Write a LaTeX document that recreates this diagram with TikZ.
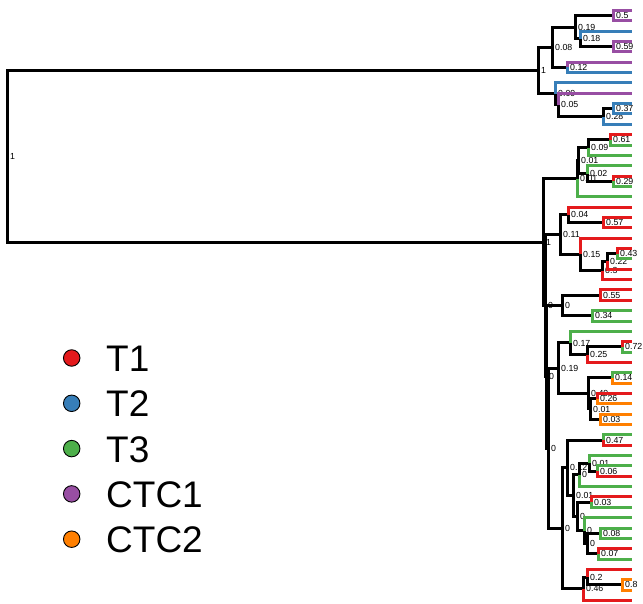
\documentclass[tikz,border=0pt]{standalone}
\usepackage{fontspec}
\setmainfont{Liberation Sans}
\usetikzlibrary{calc}
\definecolor{cR}{HTML}{E41A1C}
\definecolor{cB}{HTML}{377EB8}
\definecolor{cG}{HTML}{4DAF4A}
\definecolor{cP}{HTML}{984EA3}
\definecolor{cO}{HTML}{FF7F00}
\newcommand\inode[4]{\path let \p1=($(#3)!.5!(#4)$) in coordinate (#1) at (#2pt,\y1);}
\newcommand\ed[3][black]{\draw[tree,#1] (#2) |- (#3);}
\newcommand\lb[2]{\node[lab] (l#1) at ($(#1)+(3,0)$) {#2};}
\begin{document}
\begin{tikzpicture}[x=1pt,y=-1pt,
  tree/.style={line width=3pt},
  lab/.style={anchor=west,inner sep=0pt,font=\fontsize{8.8}{9}\selectfont},
  dot/.style={circle,draw=black,line width=0.9pt,minimum size=16.5pt,inner sep=0pt},
  legtext/.style={anchor=base west,inner sep=0pt,font=\fontsize{37}{40}\selectfont}]
\useasboundingbox (0,0) rectangle (643,604);
% leaves
\foreach \i in {0,...,57} {\coordinate (L\i) at (632,10.5+10.35*\i);}
% top cluster
\inode{P1}{613}{L0}{L1}
\inode{P2}{613}{L3}{L4}
\inode{N018}{580}{L2}{P2}
\inode{N019}{575}{P1}{N018}
\inode{P3}{567}{L5}{L6}
\inode{N008}{552}{N019}{P3}
\inode{P5}{613}{L9}{L10}
\inode{N028}{603}{P5}{L11}
\inode{N005}{558}{L8}{N028}
\inode{N009}{555}{L7}{N005}
\inode{R0}{538}{N008}{N009}
% bottom cluster
\inode{P12}{610}{L12}{L13}
\inode{N009b}{588}{P12}{L14}
\inode{P16}{613}{L16}{L17}
\inode{N002}{587}{L15}{P16}
\inode{N001a}{578}{N009b}{N002}
\inode{X}{577}{N001a}{L18}
\inode{P20}{603}{L20}{L21}
\inode{N004}{568}{L19}{P20}
\inode{P23}{617}{L23}{L24}
\inode{N022}{607}{P23}{L25}
\inode{N03}{602}{N022}{L26}
\inode{N015}{580}{L22}{N03}
\inode{N011}{560}{N004}{N015}
\inode{P27}{600}{L27}{L28}
\inode{P29}{592}{L29}{L30}
\inode{N0a}{562}{P27}{P29}
\inode{P32}{622}{L32}{L33}
\inode{N025}{587}{P32}{L34}
\inode{N017}{570}{L31}{N025}
\inode{P35}{612}{L35}{L36}
\inode{P37}{597}{L37}{L38}
\inode{P39}{600}{L39}{L40}
\inode{N001b}{590}{P37}{P39}
\inode{M}{588}{P35}{N001b}
\inode{N019b}{558}{N017}{M}
\inode{P41}{603}{L41}{L42}
\inode{P44}{597}{L44}{L45}
\inode{C}{589}{L43}{P44}
\inode{D}{579}{C}{L46}
\inode{P47}{591}{L47}{L48}
\inode{P50}{600}{L50}{L51}
\inode{P52}{598}{L52}{L53}
\inode{K}{587}{P50}{P52}
\inode{I}{584}{L49}{K}
\inode{G}{577}{P47}{I}
\inode{F}{573}{D}{G}
\inode{T5}{567}{P41}{F}
\inode{P55}{622}{L55}{L56}
\inode{N02}{587}{L54}{P55}
\inode{N046}{583}{N02}{L57}
\inode{T4}{562}{T5}{N046}
\inode{T3}{548}{N019b}{T4}
\inode{T2}{546}{N0a}{T3}
\inode{T1}{545}{N011}{T2}
\inode{R1}{543}{X}{T1}
\inode{ROOT}{7}{R0}{R1}
% labels
\lb{ROOT}{1}\lb{R0}{1}\lb{R1}{1}
\lb{N008}{0.08}\lb{N019}{0.19}\lb{P1}{0.5}\lb{N018}{0.18}\lb{P2}{0.59}
\lb{P3}{0.12}\lb{N009}{0.09}\lb{N005}{0.05}\lb{N028}{0.28}\lb{P5}{0.37}
\lb{X}{0.01}\lb{N001a}{0.01}\lb{N009b}{0.09}\lb{P12}{0.61}\lb{N002}{0.02}\lb{P16}{0.29}
\lb{T1}{0}\lb{N011}{0.11}\lb{N004}{0.04}\lb{P20}{0.57}\lb{N015}{0.15}\lb{N03}{0.3}
\lb{N022}{0.22}\lb{P23}{0.43}\lb{T2}{0}\lb{N0a}{0}\lb{P27}{0.55}\lb{P29}{0.34}
\lb{T3}{0}\lb{N019b}{0.19}\lb{N017}{0.17}\lb{N025}{0.25}\lb{P32}{0.72}
\lb{M}{0.49}\lb{P35}{0.14}\lb{N001b}{0.01}\lb{P37}{0.26}\lb{P39}{0.03}
\lb{T4}{0}\lb{T5}{0.12}\lb{P41}{0.47}\lb{F}{0.01}\lb{D}{0}\lb{C}{0.01}\lb{P44}{0.06}
\lb{G}{0}\lb{P47}{0.03}\lb{I}{0}\lb{K}{0}\lb{P50}{0.08}\lb{P52}{0.07}
\lb{N046}{0.46}\lb{N02}{0.2}\lb{P55}{0.8}
% black edges
\ed{ROOT}{R0}\ed{ROOT}{R1}
\ed{R0}{N008}\ed{R0}{N009}
\ed{N008}{N019}\ed{N008}{P3}
\ed{N019}{P1}\ed{N019}{N018}
\ed{N018}{P2}
\ed{N009}{N005}\ed{N005}{N028}\ed{N028}{P5}
\ed{R1}{X}\ed{R1}{T1}
\ed{X}{N001a}\ed{N001a}{N009b}\ed{N001a}{N002}
\ed{N009b}{P12}\ed{N002}{P16}
\ed{T1}{N011}\ed{T1}{T2}
\ed{N011}{N004}\ed{N011}{N015}\ed{N004}{P20}
\ed{N015}{N03}\ed{N03}{N022}\ed{N022}{P23}
\ed{T2}{N0a}\ed{T2}{T3}\ed{N0a}{P27}\ed{N0a}{P29}
\ed{T3}{N019b}\ed{T3}{T4}
\ed{N019b}{N017}\ed{N019b}{M}\ed{N017}{N025}\ed{N025}{P32}
\ed{M}{P35}\ed{M}{N001b}\ed{N001b}{P37}\ed{N001b}{P39}
\ed{T4}{T5}\ed{T4}{N046}
\ed{T5}{P41}\ed{T5}{F}\ed{F}{D}\ed{F}{G}\ed{D}{C}\ed{C}{P44}
\ed{G}{P47}\ed{G}{I}\ed{I}{K}\ed{K}{P50}\ed{K}{P52}
\ed{N046}{N02}\ed{N02}{P55}
% coloured leaf edges
\ed[cP]{P1}{L0}\ed[cP]{P1}{L1}\ed[cB]{N018}{L2}\ed[cP]{P2}{L3}\ed[cP]{P2}{L4}
\ed[cP]{P3}{L5}\ed[cB]{P3}{L6}\ed[cB]{N009}{L7}\ed[cP]{N005}{L8}
\ed[cB]{P5}{L9}\ed[cB]{P5}{L10}\ed[cB]{N028}{L11}
\ed[cR]{P12}{L12}\ed[cG]{P12}{L13}\ed[cG]{N009b}{L14}\ed[cG]{N002}{L15}
\ed[cR]{P16}{L16}\ed[cG]{P16}{L17}\ed[cG]{X}{L18}
\ed[cR]{N004}{L19}\ed[cR]{P20}{L20}\ed[cR]{P20}{L21}\ed[cR]{N015}{L22}
\ed[cR]{P23}{L23}\ed[cG]{P23}{L24}\ed[cR]{N022}{L25}\ed[cR]{N03}{L26}
\ed[cR]{P27}{L27}\ed[cR]{P27}{L28}\ed[cG]{P29}{L29}\ed[cG]{P29}{L30}
\ed[cG]{N017}{L31}\ed[cR]{P32}{L32}\ed[cG]{P32}{L33}\ed[cR]{N025}{L34}
\ed[cG]{P35}{L35}\ed[cO]{P35}{L36}\ed[cR]{P37}{L37}\ed[cO]{P37}{L38}
\ed[cO]{P39}{L39}\ed[cO]{P39}{L40}
\ed[cG]{P41}{L41}\ed[cR]{P41}{L42}\ed[cG]{C}{L43}\ed[cG]{P44}{L44}\ed[cR]{P44}{L45}
\ed[cG]{D}{L46}\ed[cR]{P47}{L47}\ed[cG]{P47}{L48}\ed[cG]{I}{L49}
\ed[cG]{P50}{L50}\ed[cG]{P50}{L51}\ed[cR]{P52}{L52}\ed[cG]{P52}{L53}
\ed[cR]{N02}{L54}\ed[cO]{P55}{L55}\ed[cO]{P55}{L56}\ed[cR]{N046}{L57}
% legend
\node[dot,fill=cR] (k1) at (71.7,358) {};
\node[dot,fill=cB] (k2) at (71.7,403.3) {};
\node[dot,fill=cG] (k3) at (71.7,448.6) {};
\node[dot,fill=cP] (k4) at (71.7,493.9) {};
\node[dot,fill=cO] (k5) at (71.7,539.2) {};
\node[legtext] (t1) at (106,371.5) {T1};
\node[legtext] (t2) at (106,416.8) {T2};
\node[legtext] (t3) at (106,462.1) {T3};
\node[legtext] (t4) at (106,507.4) {CTC1};
\node[legtext] (t5) at (106,552.7) {CTC2};
\end{tikzpicture}
\end{document}
